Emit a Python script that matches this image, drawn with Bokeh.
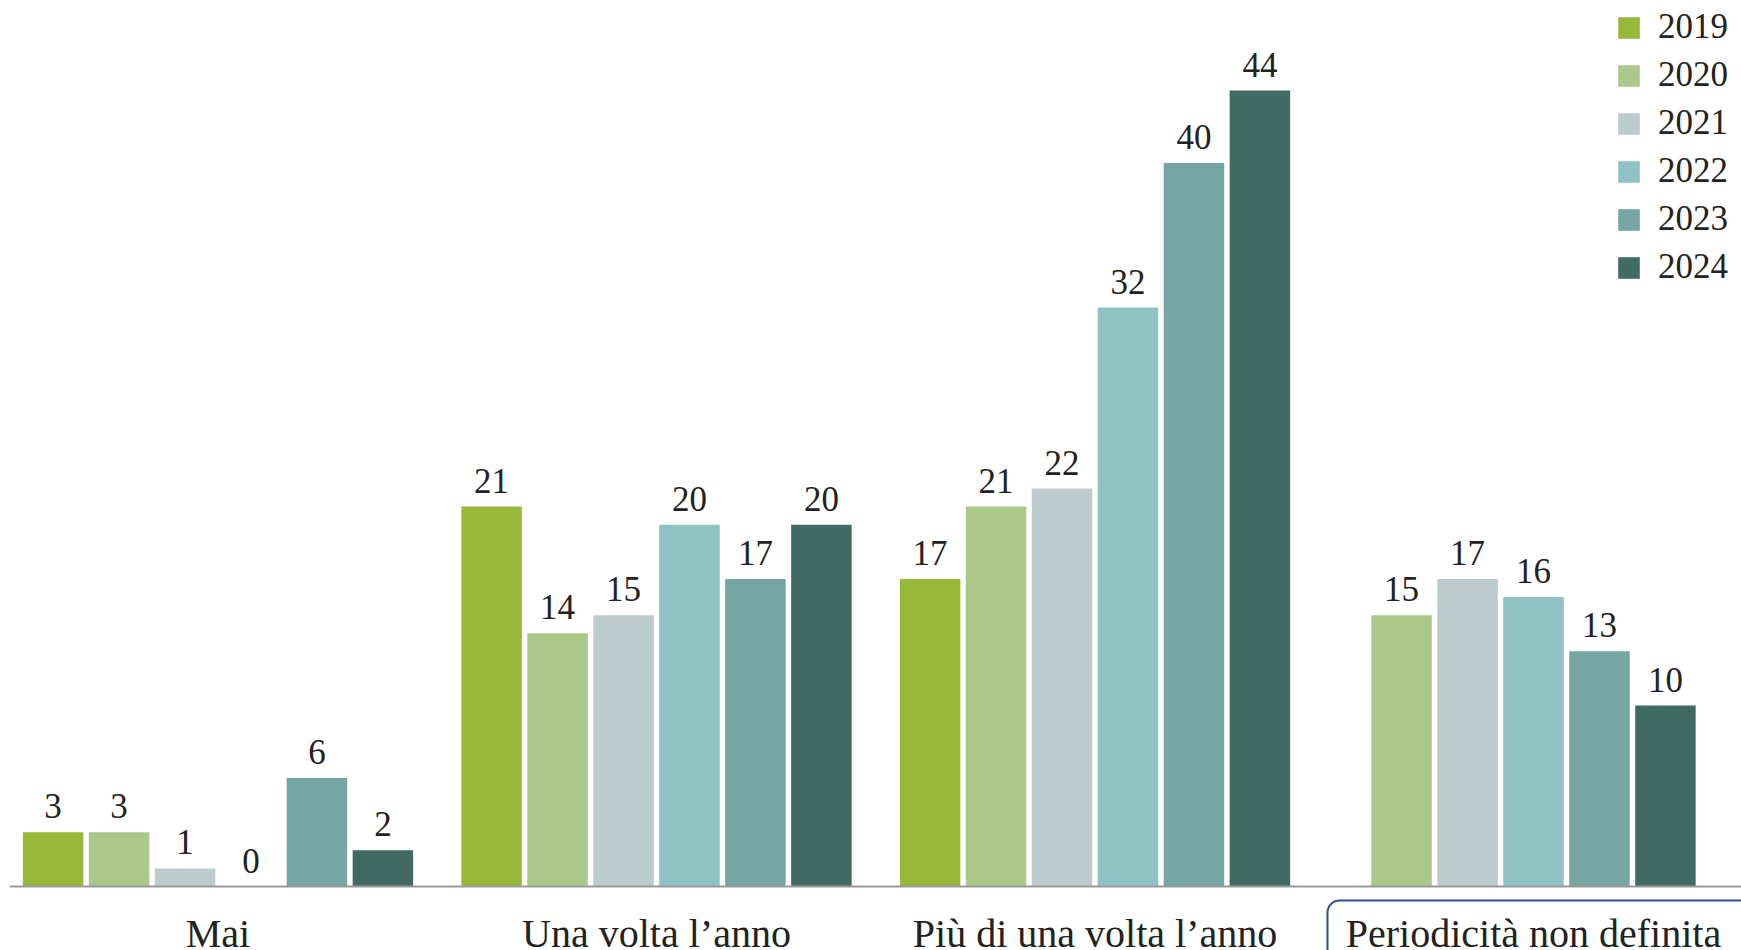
from bokeh.plotting import figure
from bokeh.models import Range1d, FixedTicker, BoxAnnotation, ColumnDataSource
from bokeh.core.properties import value
from bokeh.embed import file_html
from bokeh.resources import INLINE

# ---- data ----
categories = ["Mai", "Una volta l’anno", "Più di una volta l’anno", "Periodicità non definita"]
years = ["2019", "2020", "2021", "2022", "2023", "2024"]
v2019 = [3, 21, 17, None]
v2020 = [3, 14, 21, 15]
v2021 = [1, 15, 22, 17]
v2022 = [0, 20, 32, 16]
v2023 = [6, 17, 40, 13]
v2024 = [2, 20, 44, 10]
colors = ["#98b83a", "#aac88a", "#bccbcb", "#8ec2c4", "#76a6a3", "#416b62"]

series = [v2019, v2020, v2021, v2022, v2023, v2024]

# ---- layout constants (styling) ----
W, H = 1741, 950
FONT = "Liberation Serif"
PX_PER_CAT = 438.5
PITCH = 65.96 / PX_PER_CAT
BAR_W = 60.5 / PX_PER_CAT
PX_PER_UNIT = 18.09
LEFT_PAD = 9
BASE_FROM_TOP = 886

x_start = -(217.5 - LEFT_PAD) / PX_PER_CAT
x_end = x_start + (W - LEFT_PAD) / PX_PER_CAT
y_start = -(H - BASE_FROM_TOP) / PX_PER_UNIT
y_end = BASE_FROM_TOP / PX_PER_UNIT

p = figure(width=W, height=H, output_backend="svg", toolbar_location=None,
           x_range=Range1d(x_start, x_end), y_range=Range1d(y_start, y_end),
           min_border_left=LEFT_PAD, min_border_right=0, min_border_top=0, min_border_bottom=0)
p.background_fill_color = "white"
p.border_fill_color = "white"
p.outline_line_color = None
p.xgrid.visible = False
p.ygrid.visible = False
p.yaxis.visible = False

# positions: bars of each category centred on the category
present = [[s for s in range(len(years)) if series[s][c] is not None] for c in range(len(categories))]

for s, yr in enumerate(years):
    xs, tops, labels = [], [], []
    for c in range(len(categories)):
        v = series[s][c]
        if v is None:
            continue
        idx = present[c].index(s)
        n = len(present[c])
        xs.append(c + (idx - (n - 1) / 2) * PITCH)
        tops.append(v)
        labels.append(str(v))
    src = ColumnDataSource(dict(x=xs, top=tops, label=labels))
    p.vbar(x="x", top="top", width=BAR_W, bottom=0, source=src,
           fill_color=colors[s], line_color=None, legend_label=yr)
    p.text(x="x", y="top", text="label", source=src, text_align="center",
           text_baseline="alphabetic", y_offset=-26, text_font=value(FONT),
           text_font_size="35px", text_color="#222222")

ax = p.xaxis[0]
ax.fixed_location = 0
ax.ticker = FixedTicker(ticks=list(range(len(categories))))
ax.major_label_overrides = {i: c for i, c in enumerate(categories)}
ax.axis_line_color = "#9a9a9a"
ax.axis_line_width = 2
ax.major_tick_line_color = None
ax.minor_tick_line_color = None
ax.major_tick_out = 0
ax.major_label_standoff = 24
ax.major_label_text_font = FONT
ax.major_label_text_font_size = "40px"
ax.major_label_text_color = "#222222"

# focus-style rounded box around the last category label
box = BoxAnnotation(left=1327, right=1800, top=900, bottom=1000,
                    left_units="canvas", right_units="canvas",
                    top_units="canvas", bottom_units="canvas",
                    fill_alpha=0, line_color="#2d4f85", line_alpha=1.0, line_width=2,
                    border_radius=12)
p.add_layout(box)

lg = p.legend[0]
lg.location = (1606, 659)
lg.padding = 0
lg.margin = 0
lg.spacing = 0
lg.label_height = 48
lg.glyph_height = 27
lg.glyph_width = 27
lg.label_standoff = 16
lg.background_fill_alpha = 0
lg.border_line_color = None
lg.label_text_font = FONT
lg.label_text_font_size = "35px"
lg.label_text_color = "#222222"

open("out.html", "w").write(file_html(p, INLINE))
